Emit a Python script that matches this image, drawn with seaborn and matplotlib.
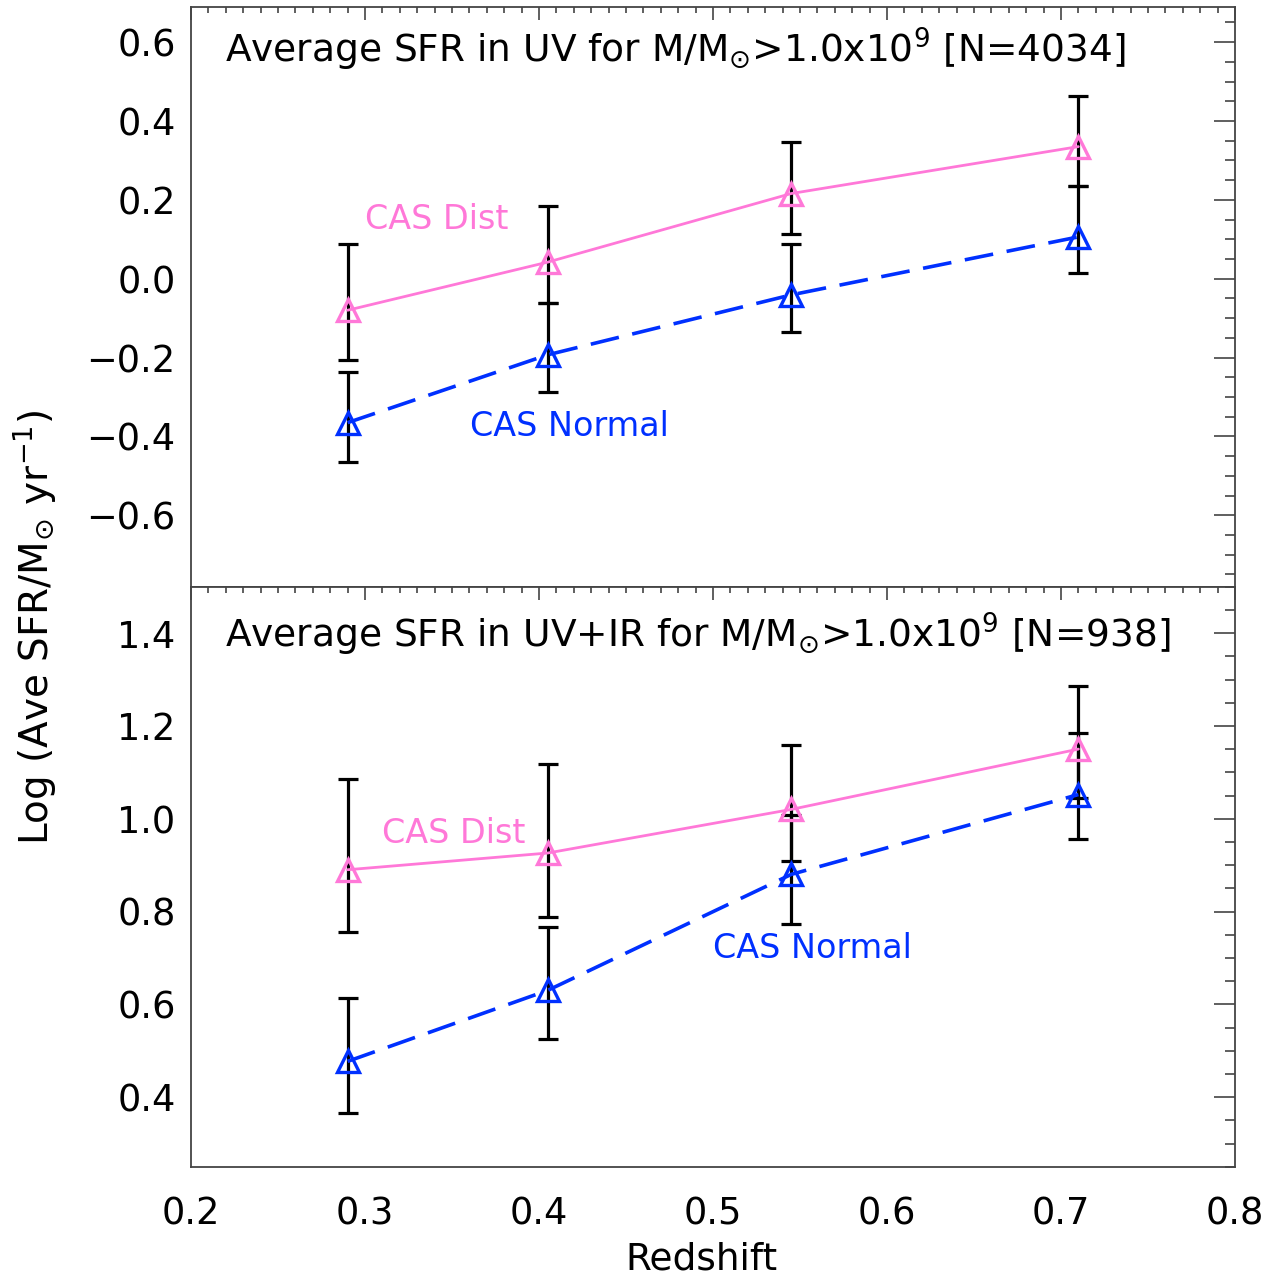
import matplotlib
matplotlib.use("Agg")
import matplotlib.pyplot as plt
import seaborn as sns
import numpy as np
import pandas as pd
from matplotlib.ticker import MultipleLocator, FuncFormatter

# ---------------- data ----------------
redshift = [0.29, 0.405, 0.545, 0.71]

uv_dist = [-0.080, 0.042, 0.216, 0.335]
uv_dist_hi = [0.088, 0.184, 0.346, 0.463]
uv_dist_lo = [-0.206, -0.062, 0.114, 0.236]
uv_norm = [-0.365, -0.193, -0.041, 0.106]
uv_norm_hi = [-0.236, -0.062, 0.088, 0.236]
uv_norm_lo = [-0.466, -0.288, -0.136, 0.014]

uvir_dist = [0.890, 0.926, 1.020, 1.150]
uvir_dist_hi = [1.085, 1.117, 1.159, 1.285]
uvir_dist_lo = [0.756, 0.789, 0.909, 1.045]
uvir_norm = [0.477, 0.630, 0.880, 1.052]
uvir_norm_hi = [0.614, 0.766, 1.008, 1.184]
uvir_norm_lo = [0.365, 0.526, 0.774, 0.956]

title_top = "Average SFR in UV for M/M$_{\\odot}$>1.0x10$^{9}$ [N=4034]"
title_bot = "Average SFR in UV+IR for M/M$_{\\odot}$>1.0x10$^{9}$ [N=938]"
label_dist = "CAS Dist"
label_norm = "CAS Normal"
xlabel = "Redshift"
ylabel = "Log (Ave SFR/M$_{\\odot}$ yr$^{-1}$)"

PINK = "#FF78D8"
BLUE = "#0030FF"
AXC = "#444444"

sns.set_theme(style="white")
plt.rcParams["font.family"] = ["DejaVu Sans"]
plt.rcParams["mathtext.fontset"] = "dejavusans"
plt.rcParams["text.color"] = "black"
plt.rcParams["xtick.labelcolor"] = "black"
plt.rcParams["ytick.labelcolor"] = "black"

W, H = 1269, 1281
fig = plt.figure(figsize=(W / 100, H / 100), dpi=100)
L, R = 191 / W, 1235 / W
top_t, mid, bot_b = 1 - 7 / H, 1 - 586.7 / H, 1 - 1166.7 / H
ax1 = fig.add_axes([L, mid, R - L, top_t - mid])
ax2 = fig.add_axes([L, bot_b, R - L, mid - bot_b])


def fmt(v, pos):
    s = "%.1f" % v
    if s == "-0.0":
        s = "0.0"
    return s.replace("-", "\u2212")


def draw(ax, d, dhi, dlo, n, nhi, nlo):
    d, dhi, dlo = map(np.asarray, (d, dhi, dlo))
    n, nhi, nlo = map(np.asarray, (n, nhi, nlo))
    ax.errorbar(redshift, d, yerr=[d - dlo, dhi - d], fmt="none", ecolor="black",
                elinewidth=2.3, capsize=7.5, capthick=2.3, zorder=2)
    ax.errorbar(redshift, n, yerr=[n - nlo, nhi - n], fmt="none", ecolor="black",
                elinewidth=2.3, capsize=7.5, capthick=2.3, zorder=2)
    df = pd.DataFrame({"z": redshift, "d": d, "n": n})
    sns.lineplot(data=df, x="z", y="d", ax=ax, color=PINK, lw=2.0, marker="^",
                 markersize=16, markerfacecolor="none", markeredgecolor=PINK,
                 markeredgewidth=2.4, zorder=3)
    sns.lineplot(data=df, x="z", y="n", ax=ax, color=BLUE, lw=2.6, marker="^",
                 markersize=16, markerfacecolor="none", markeredgecolor=BLUE,
                 markeredgewidth=2.4, linestyle=(0, (8, 3.8)), zorder=3)
    ax.set_xlim(0.2, 0.8)
    ax.xaxis.set_major_locator(MultipleLocator(0.1))
    ax.xaxis.set_minor_locator(MultipleLocator(0.01))
    ax.yaxis.set_major_locator(MultipleLocator(0.2))
    ax.yaxis.set_minor_locator(MultipleLocator(0.05))
    ax.yaxis.set_major_formatter(FuncFormatter(fmt))
    ax.xaxis.set_major_formatter(FuncFormatter(lambda v, p: "%.1f" % v))
    ax.tick_params(axis="both", which="both", direction="in", top=True, right=True,
                   color=AXC, width=1.2, labelcolor="black")
    ax.tick_params(axis="y", which="major", length=15, labelsize=26.5, pad=11)
    ax.tick_params(axis="y", which="minor", length=7.5)
    ax.tick_params(axis="x", which="major", length=9, labelsize=26.5, pad=21)
    ax.tick_params(axis="x", which="minor", length=4.5)
    for s in ax.spines.values():
        s.set_color(AXC)
        s.set_linewidth(1.3)
    ax.set_xlabel("")
    ax.set_ylabel("")


draw(ax1, uv_dist, uv_dist_hi, uv_dist_lo, uv_norm, uv_norm_hi, uv_norm_lo)
draw(ax2, uvir_dist, uvir_dist_hi, uvir_dist_lo, uvir_norm, uvir_norm_hi, uvir_norm_lo)

ax1.set_ylim(-0.781, 0.689)
ax2.set_ylim(0.25, 1.5)
ax1.tick_params(axis="x", labelbottom=False)

ax1.text(0.0326, 0.926, title_top, transform=ax1.transAxes, fontsize=27,
         ha="left", va="center", color="black")
ax2.text(0.0326, 0.918, title_bot, transform=ax2.transAxes, fontsize=27,
         ha="left", va="center", color="black")

ax1.text(0.300, 0.149, label_dist, color=PINK, fontsize=24, ha="left", va="center")
ax1.text(0.3603, -0.376, label_norm, color=BLUE, fontsize=24, ha="left", va="center")
ax2.text(0.310, 0.969, label_dist, color=PINK, fontsize=24, ha="left", va="center")
ax2.text(0.500, 0.720, label_norm, color=BLUE, fontsize=24, ha="left", va="center")

fig.text(701 / W, 1 - 1260 / H, xlabel, fontsize=27, ha="center", va="center",
         color="black")
fig.text(35 / W, 1 - 627 / H, ylabel, fontsize=28, ha="center", va="center",
         rotation=90, color="black")

fig.savefig("out.png", dpi=100)
